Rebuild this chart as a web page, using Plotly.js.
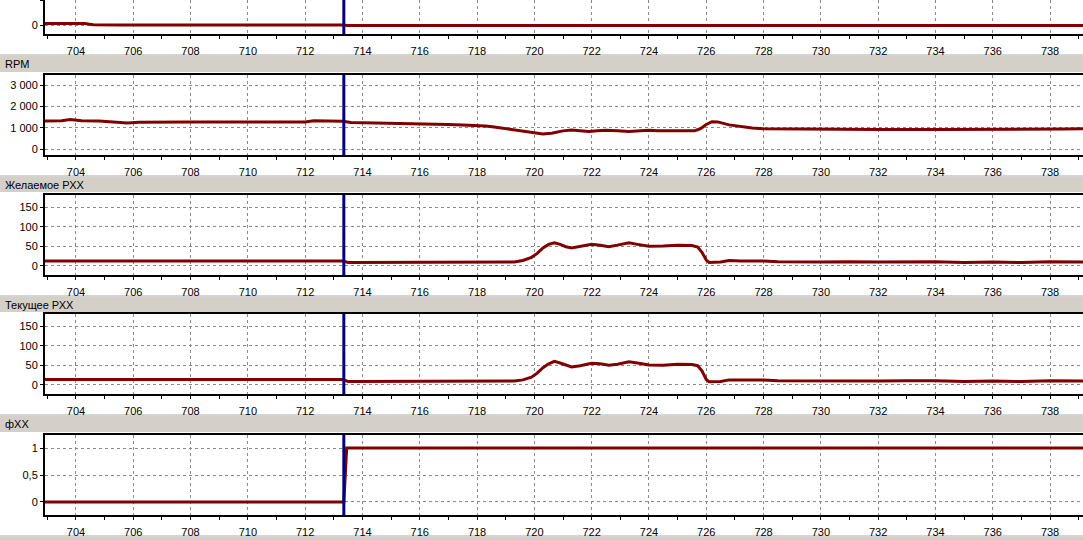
<!DOCTYPE html>
<html>
<head>
<meta charset="utf-8">
<script src="https://cdn.plot.ly/plotly-3.0.1.min.js"></script>
<style>html,body{margin:0;padding:0;background:#fff;}#chart{width:1083px;height:540px;}</style>
</head>
<body>
<div id="chart"></div>
<script>
// ---- data ----
const panelTitles = ["RPM", "Желаемое РХХ", "Текущее РХХ", "фХХ"];
const xTickVals = [704,706,708,710,712,714,716,718,720,722,724,726,728,730,732,734,736,738];
const cursorT = 713.35;

const topT = [702.9, 703.5, 704.3, 704.6, 705.5, 713.3, 713.5, 739.2];
const topV = [2.0, 2.2, 2.0, 0.5, 0.3, 0.4, -0.3, -0.3];
const topTickVals = [0, 30];
const topTickText = ["0", "30"];

const rpmT = [702.9, 703.5, 703.8, 704.2, 704.8, 705.2, 705.8, 706.2, 707, 708, 709, 710, 711, 712, 712.3, 713, 713.3, 713.6, 714, 715, 715.5, 716, 717, 717.5, 718, 718.3, 718.6, 719, 719.5, 720, 720.3, 720.6, 721, 721.3, 721.6, 721.9, 722.2, 722.5, 722.9, 723.3, 723.7, 724, 724.3, 724.8, 725.3, 725.6, 725.8, 726.0, 726.2, 726.4, 726.8, 727.2, 727.6, 728, 729, 729.5, 730, 732, 734, 736, 738, 738.5, 739.2];
const rpmV = [1310, 1330, 1380, 1330, 1310, 1270, 1220, 1250, 1270, 1270, 1270, 1270, 1270, 1270, 1320, 1320, 1300, 1240, 1230, 1230, 1200, 1190, 1150, 1130, 1110, 1080, 1030, 950, 850, 760, 700, 740, 850, 890, 850, 820, 850, 880, 850, 820, 860, 880, 860, 850, 850, 860, 950, 1150, 1280, 1270, 1130, 1050, 980, 950, 940, 920, 910, 910, 910, 910, 910, 940, 950];
const rpmTickVals = [0, 1000, 2000, 3000];
const rpmTickText = ["0", "1 000", "2 000", "3 000"];

const desT = [702.9, 705, 710, 713.3, 713.5, 716, 719, 719.3, 719.6, 719.9, 720.1, 720.3, 720.5, 720.7, 720.9, 721.1, 721.3, 721.6, 722.0, 722.3, 722.6, 722.9, 723.3, 723.6, 724.0, 724.5, 725.0, 725.5, 725.7, 725.85, 726.0, 726.1, 726.5, 726.8, 727.2, 728, 728.5, 730, 731, 732, 733, 734, 735, 736, 737, 738, 739.2];
const desV = [13, 13, 13, 13, 9, 9, 9, 10, 14, 22, 32, 46, 55, 59, 55, 49, 46, 50, 55, 53, 49, 53, 59, 55, 50, 51, 53, 52, 48, 35, 15, 9, 10, 14, 13, 13, 11, 10, 11, 10, 11, 11, 9, 10, 9, 11, 10];

const curT = [702.9, 705, 710, 713.3, 713.5, 716, 719, 719.3, 719.6, 719.9, 720.1, 720.3, 720.5, 720.7, 720.9, 721.1, 721.3, 721.6, 722.0, 722.3, 722.6, 722.9, 723.3, 723.6, 724.0, 724.5, 725.0, 725.5, 725.7, 725.85, 726.0, 726.1, 726.5, 726.8, 727.2, 728, 728.5, 730, 731, 732, 733, 734, 735, 736, 737, 738, 739.2];
const curV = [14, 14, 14, 14, 9, 9, 9, 10, 13, 20, 30, 44, 54, 60, 56, 50, 46, 49, 55, 54, 50, 53, 59, 56, 51, 50, 53, 52, 49, 36, 14, 8, 9, 13, 13, 13, 11, 10, 10, 10, 11, 11, 9, 10, 9, 11, 10];
const rxxTickVals = [0, 50, 100, 150];
const rxxTickText = ["0", "50", "100", "150"];

const fT = [702.9, 713.35, 713.45, 739.2];
const fV = [0, 0, 1, 1];
const fTickVals = [0, 0.5, 1];
const fTickText = ["0", "0,5", "1"];

// ---- layout helpers ----
const H = 540;
const py = y => 1 - y / H;
const xRange = [702.92, 739.15];
const xLeft = 45 / 1083;
const LINE = '#800000';
const font = {family: 'Liberation Sans, Arial, sans-serif', size: 11, color: '#000'};

const panels = [
  {t: topT, v: topV, top: 0, bottom: 34, range: [-10.4, 30], tv: topTickVals, tt: topTickText, mirror: false},
  {t: rpmT, v: rpmV, top: 75, bottom: 155, range: [-281, 3469], tv: rpmTickVals, tt: rpmTickText, mirror: true},
  {t: desT, v: desV, top: 195, bottom: 275, range: [-22.9, 180.5], tv: rxxTickVals, tt: rxxTickText, mirror: true},
  {t: curT, v: curV, top: 314, bottom: 394, range: [-22.9, 180.5], tv: rxxTickVals, tt: rxxTickText, mirror: true},
  {t: fT, v: fV, top: 435, bottom: 515, range: [-0.241, 1.241], tv: fTickVals, tt: fTickText, mirror: true}
];
const bars = [[56, 72], [177, 192], [297, 312], [416, 432], [537, 541]];

const data = [];
const layout = {
  width: 1083, height: 540,
  margin: {l: 0, r: 0, t: 0, b: 0, pad: 0},
  paper_bgcolor: '#fff', plot_bgcolor: '#fff',
  showlegend: false, font: font,
  shapes: [], annotations: []
};

panels.forEach((p, i) => {
  const n = i === 0 ? '' : String(i + 1);
  data.push({
    x: p.t, y: p.v, xaxis: 'x' + n, yaxis: 'y' + n,
    type: 'scatter', mode: 'lines',
    line: {color: LINE, width: 3}, hoverinfo: 'skip'
  });
  layout['xaxis' + n] = {
    domain: [xLeft, 1], range: xRange, anchor: 'y' + n,
    tickmode: 'array', tickvals: xTickVals,
    ticks: 'outside', ticklen: 3, tickcolor: '#000', tickwidth: 1,
    ticklabelstandoff: 3,
    minor: {dtick: 1, tick0: 0, ticks: 'outside', ticklen: 3, tickcolor: '#000', showgrid: false},
    showgrid: true, gridcolor: '#8a8a8a', griddash: '3px,3px', gridwidth: 1,
    showline: true, linecolor: '#000', linewidth: 2, mirror: p.mirror,
    zeroline: false, tickfont: font, fixedrange: true
  };
  layout['yaxis' + n] = {
    domain: [py(p.bottom), py(p.top)], range: p.range, anchor: 'x' + n,
    tickmode: 'array', tickvals: p.tv, ticktext: p.tt,
    ticks: 'outside', ticklen: 3, tickcolor: '#000',
    showgrid: true, gridcolor: '#8a8a8a', griddash: '3px,3px', gridwidth: 1,
    showline: true, linecolor: '#000', linewidth: 2,
    zeroline: false, tickfont: font, fixedrange: true
  };
  layout.shapes.push({
    type: 'line', xref: 'x' + n, yref: 'y' + n + ' domain',
    x0: cursorT, x1: cursorT, y0: 0, y1: 1,
    line: {color: '#000080', width: 3}
  });
});

bars.forEach((b, i) => {
  layout.shapes.push({
    type: 'rect', xref: 'paper', yref: 'paper', layer: 'below',
    x0: 0, x1: 1, y0: py(b[1]), y1: py(b[0]),
    fillcolor: '#d4d0c8', line: {width: 0}
  });
  layout.shapes.push({
    type: 'line', xref: 'paper', yref: 'paper', layer: 'below',
    x0: 0, x1: 1, y0: py(b[0] - 1), y1: py(b[0] - 1),
    line: {color: '#a8a8a8', width: 1}
  });
  if (i < panelTitles.length) {
    layout.annotations.push({
      xref: 'paper', yref: 'paper', x: 3 / 1083, y: py((b[0] + b[1]) / 2),
      xanchor: 'left', yanchor: 'middle', showarrow: false,
      text: panelTitles[i], font: font
    });
  }
});

Plotly.newPlot('chart', data, layout, {staticPlot: true, displayModeBar: false});
</script>
</body>
</html>
